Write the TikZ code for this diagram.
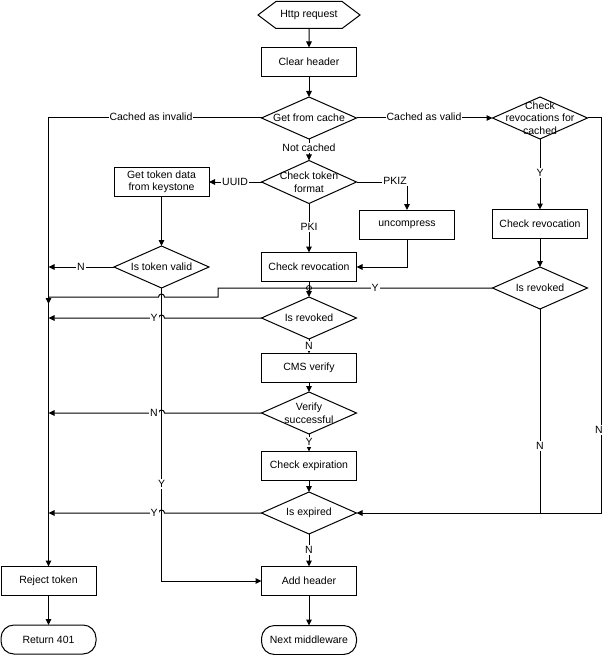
\documentclass[tikz,border=0pt]{standalone}
\usepackage{fontspec}
\setmainfont{Liberation Sans}
\usetikzlibrary{shapes.geometric,shapes.symbols,arrows.meta}
\begin{document}
\begin{tikzpicture}[x=1pt,y=-1pt,
  every node/.style={font=\fontsize{10.5}{12.5}\selectfont},
  line/.style={draw=black,line width=1pt},
  arr/.style={line,-{Triangle[length=6pt,width=5.5pt]}},
  box/.style={draw,line width=1pt,rectangle,minimum width=95pt,minimum height=29pt,inner sep=0pt,outer sep=0pt,align=center},
  term/.style={box,rounded corners=13pt},
  dia/.style={draw,line width=1pt,diamond,minimum width=95pt,minimum height=42pt,inner sep=0pt,outer sep=0pt},
  hexa/.style={draw,line width=1pt,signal,signal to=west and east,signal pointer angle=74,minimum width=102pt,minimum height=27pt,inner sep=0pt,outer sep=0pt},
  lbl/.style={fill=white,inner sep=1pt},
]
\useasboundingbox (0,0) rectangle (605,655);
% centre column
\node[hexa] (http) at (309,15) {Http request};
\node[box] (clear) at (309,62) {Clear header};
\node[dia,label={center:Get from cache}] (gc) at (309,118) {};
\node[dia,minimum height=43pt,label={[align=center]center:Check token\\format}] (ctf) at (309,182) {};
\node[box] (cr) at (309,267) {Check revocation};
\node[dia,label={center:Is revoked}] (ir) at (309,318) {};
\node[box] (cms) at (309,368) {CMS verify};
\node[dia,label={[align=center]center:Verify\\successful}] (vs) at (309,413) {};
\node[box] (ce) at (309,466) {Check expiration};
\node[dia,label={center:Is expired}] (ie) at (309,513) {};
\node[box] (ah) at (309,581) {Add header};
\node[term] (nm) at (309,640) {Next middleware};
% left column
\node[box] (gt) at (161.5,182) {Get token data\\from keystone};
\node[dia,label={center:Is token valid}] (itv) at (161.5,267) {};
\node[box] (rj) at (48.5,581) {Reject token};
\node[term] (r401) at (48.5,639.5) {Return 401};
% right column
\node[box] (unc) at (407,224.5) {uncompress};
\node[dia,label={[align=center]center:Check\\revocations for\\cached}] (crc) at (540,118) {};
\node[box] (crr) at (540,224) {Check revocation};
\node[dia,label={center:Is revoked}] (rr) at (540,288) {};
% connectors
\draw[arr] (http) -- (clear);
\draw[arr] (clear) -- (gc);
\draw[arr] (gc.west) -- (48.5,118) -- (rj.north);
\node[lbl] at (151,117) {Cached as invalid};
\draw[arr] (gc.east) -- (crc.west);
\node[lbl] at (424,117) {Cached as valid};
\draw[arr] (gc.south) -- (ctf.north);
\node[lbl] at (309,148) {Not cached};
\draw[arr] (ctf.west) -- (gt.east);
\node[lbl] at (235,182) {UUID};
\draw[arr] (ctf.east) -- (407,182) -- (unc.north);
\node[lbl] at (395,181) {PKIZ};
\draw[arr] (ctf.south) -- (cr.north);
\node[lbl] at (309,227) {PKI};
\draw[arr] (unc.south) -- (407,267) -- (cr.east);
\draw[arr] (gt.south) -- (itv.north);
\draw[arr] (itv.west) -- (48.5,267);
\node[lbl] at (81,267) {N};
\draw[arr] (cr.south) -- (ir.north);
\draw[line width=0.7pt] (309,288) circle[radius=2.5pt];
\draw[arr] (ir.west) -- (164.5,318) arc[start angle=0,end angle=180,radius=3pt] -- (48.5,318);
\node[lbl] at (154,318) {Y};
\draw[arr] (ir.south) -- (cms.north);
\node[lbl] at (309,346) {N};
\draw[arr] (cms) -- (vs);
\draw[arr] (vs.west) -- (164.5,413) arc[start angle=0,end angle=180,radius=3pt] -- (48.5,413);
\node[lbl] at (154,413) {N};
\draw[arr] (vs.south) -- (ce.north);
\node[lbl] at (309,442) {Y};
\draw[arr] (ce) -- (ie);
\draw[arr] (ie.west) -- (164.5,513) arc[start angle=0,end angle=180,radius=3pt] -- (48.5,513);
\node[lbl] at (154,513) {Y};
\draw[arr] (ie.south) -- (ah.north);
\node[lbl] at (309,550) {N};
\draw[arr] (ah) -- (nm);
\draw[arr] (rj) -- (r401);
\draw[arr] (itv.south) -- (161.5,581) -- (ah.west);
\node[lbl] at (161.5,484) {Y};
\draw[arr] (crc.south) -- (crr.north);
\node[lbl] at (540,173) {Y};
\draw[arr] (crr.south) -- (rr.north);
\draw[line] (rr.south) -- (540,513);
\node[lbl] at (540,446) {N};
\draw[arr] (crc.east) -- (601,118) -- (601,513) -- (ie.east);
\node[lbl] at (599,430) {N};
\draw[arr] (rr.west) -- (218,288) -- (218,297) -- (164.5,297) arc[start angle=0,end angle=180,radius=3pt] -- (48.5,297) -- (48.5,304);
\node[lbl] at (375,288) {Y};
\end{tikzpicture}
\end{document}
